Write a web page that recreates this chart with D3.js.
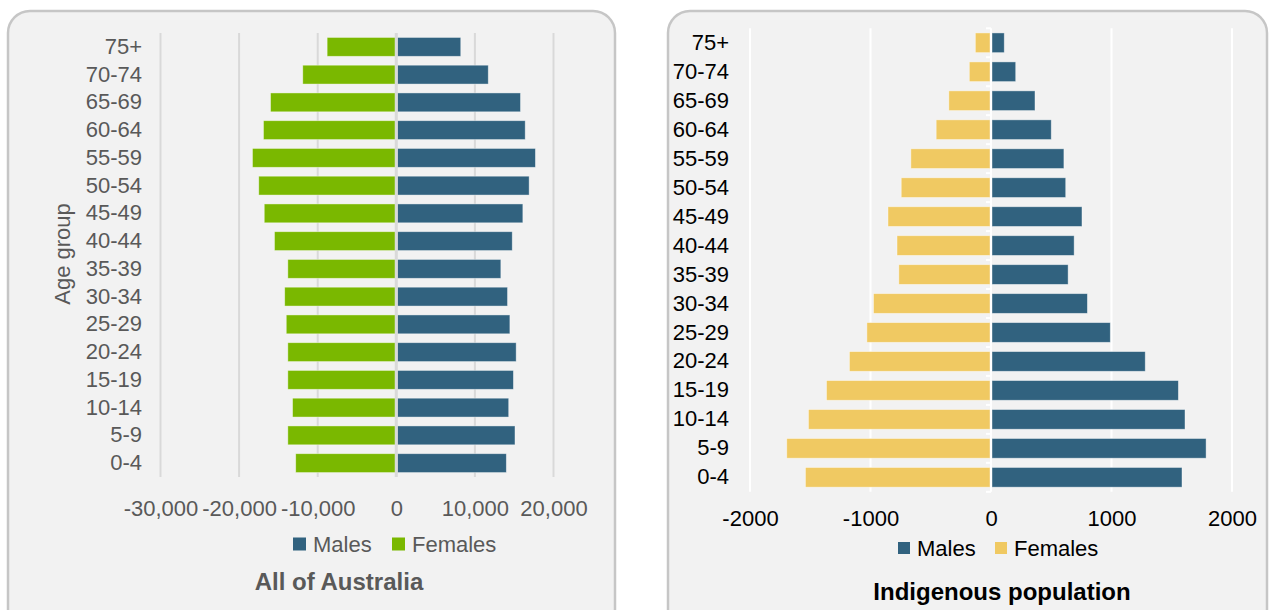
<!DOCTYPE html>
<html>
<head>
<meta charset="utf-8">
<script src="https://cdn.jsdelivr.net/npm/d3@7"></script>
<style>
  body { margin: 0; background: #fff; }
  svg { display: block; font-family: "Liberation Sans", Arial, sans-serif; }
</style>
</head>
<body>
<svg width="1271" height="610"></svg>
<script>
// age groups, bottom to top as in the source table
var ageGroups = ['0-4', '5-9', '10-14', '15-19', '20-24', '25-29', '30-34', '35-39',
  '40-44', '45-49', '50-54', '55-59', '60-64', '65-69', '70-74', '75+'];

// All of Australia
var ausMales = [14000, 15100, 14300, 14900, 15250, 14450, 14150, 13300,
  14750, 16100, 16900, 17700, 16400, 15800, 11700, 8200];
var ausFemales = [-12800, -13800, -13200, -13800, -13800, -14000, -14200, -13800,
  -15500, -16800, -17500, -18300, -16900, -16000, -11900, -8800];
var ausTicks = [-30000, -20000, -10000, 0, 10000, 20000];

// Indigenous population
var indMales = [1585, 1785, 1610, 1555, 1280, 990, 800, 640,
  690, 755, 620, 605, 500, 365, 205, 110];
var indFemales = [-1540, -1695, -1515, -1365, -1175, -1030, -975, -765,
  -780, -855, -745, -665, -455, -350, -180, -130];
var indTicks = [-2000, -1000, 0, 1000, 2000];

var svg = d3.select('svg');

// excel style labels use a plain hyphen for the minus sign
var hyphen = function (f) {
  return function (d) { return f(d).replace('\u2212', '-'); };
};

// panel cards
[[8, 11, 607], [668, 11, 599]].forEach(function (c) {
  svg.append('rect')
    .attr('x', c[0]).attr('y', c[1])
    .attr('width', c[2]).attr('height', 620)
    .attr('rx', 22)
    .attr('fill', '#f2f2f2')
    .attr('stroke', '#c6c6c6')
    .attr('stroke-width', 2.5);
});

function pyramid(opt) {
  var g = svg.append('g');
  var x = d3.scaleLinear().domain(opt.domain).range(opt.xRange);
  var y = d3.scaleBand().domain(ageGroups.slice().reverse())
    .range(opt.yRange).paddingInner(0.32).paddingOuter(0.16);

  // gridlines
  g.selectAll('.grid')
    .data(opt.ticks.filter(function (d) { return d !== 0; }))
    .enter().append('line')
    .attr('x1', function (d) { return x(d); })
    .attr('x2', function (d) { return x(d); })
    .attr('y1', opt.yRange[0]).attr('y2', opt.yRange[1])
    .attr('stroke', opt.gridColor)
    .attr('stroke-width', 2);

  var rows = ageGroups.map(function (a, i) {
    return { age: a, m: opt.males[i], f: opt.females[i] };
  });

  g.selectAll('.female')
    .data(rows)
    .enter().append('rect')
    .attr('x', function (d) { return x(d.f); })
    .attr('width', function (d) { return x(0) - x(d.f) - 1; })
    .attr('y', function (d) { return y(d.age); })
    .attr('height', y.bandwidth())
    .attr('fill', opt.femaleColor)
    .attr('stroke', 'rgba(255,255,255,0.5)')
    .attr('stroke-width', 0.8);

  g.selectAll('.male')
    .data(rows)
    .enter().append('rect')
    .attr('x', x(0) + 1)
    .attr('width', function (d) { return x(d.m) - x(0) - 1; })
    .attr('y', function (d) { return y(d.age); })
    .attr('height', y.bandwidth())
    .attr('fill', '#31627f')
    .attr('stroke', 'rgba(255,255,255,0.5)')
    .attr('stroke-width', 0.8);

  // zero axis line
  g.append('line')
    .attr('x1', x(0)).attr('x2', x(0))
    .attr('y1', opt.yRange[0]).attr('y2', opt.yRange[1])
    .attr('stroke', opt.zeroColor)
    .attr('stroke-width', opt.zeroWidth);

  if (opt.zeroTicks) {
    var step = y.step();
    g.selectAll('.ztick')
      .data(d3.range(ageGroups.length + 1))
      .enter().append('line')
      .attr('x1', x(0) - 5).attr('x2', x(0))
      .attr('y1', function (i) { return opt.yRange[0] + i * step; })
      .attr('y2', function (i) { return opt.yRange[0] + i * step; })
      .attr('stroke', opt.zeroColor)
      .attr('stroke-width', 2);
  }

  // x axis labels
  var xAxis = g.append('g')
    .attr('transform', 'translate(0,' + opt.tickY + ')')
    .call(d3.axisBottom(x).tickValues(opt.ticks).tickSize(0).tickPadding(0)
      .tickFormat(hyphen(opt.fmt)));
  xAxis.select('.domain').remove();
  xAxis.selectAll('text')
    .attr('dy', '0.35em')
    .attr('fill', opt.textColor)
    .style('font-size', '22px')
    .style('font-family', '"Liberation Sans", Arial, sans-serif');

  // category labels
  var yAxis = g.append('g')
    .attr('transform', 'translate(' + opt.labelX + ',0)')
    .call(d3.axisLeft(y).tickSize(0).tickPadding(0));
  yAxis.select('.domain').remove();
  yAxis.selectAll('text')
    .attr('fill', opt.textColor)
    .style('font-size', '22px')
    .style('font-family', '"Liberation Sans", Arial, sans-serif');

  // legend
  var lg = g.append('g').attr('transform', 'translate(0,' + opt.legendY + ')');
  [['Males', '#31627f', opt.legend[0]], ['Females', opt.femaleColor, opt.legend[1]]]
    .forEach(function (l) {
      lg.append('rect')
        .attr('x', l[2]).attr('y', -opt.sq / 2)
        .attr('width', opt.sq).attr('height', opt.sq)
        .attr('fill', l[1]);
      lg.append('text')
        .attr('x', l[2] + opt.sq + 7).attr('dy', '0.35em')
        .attr('fill', opt.textColor)
        .style('font-size', '22px')
        .text(l[0]);
    });

  // title
  g.append('text')
    .attr('x', opt.titleX).attr('y', opt.titleY).attr('dy', '0.35em')
    .attr('text-anchor', 'middle')
    .attr('fill', opt.textColor)
    .style('font-size', '24px')
    .style('font-weight', 'bold')
    .text(opt.title);
}

pyramid({
  domain: [-30000, 20000], xRange: [160.5, 553.5], yRange: [33, 477],
  males: ausMales, females: ausFemales, ticks: ausTicks,
  fmt: d3.format(','), femaleColor: '#7ab800',
  gridColor: '#d9d9d9', zeroColor: '#d9d9d9', zeroWidth: 3, zeroTicks: false,
  textColor: '#595959', tickY: 508, labelX: 142,
  legendY: 544, legend: [293, 392], sq: 13,
  title: 'All of Australia', titleX: 339, titleY: 582
});

pyramid({
  domain: [-2000, 2000], xRange: [750, 1232], yRange: [28.3, 491.8],
  males: indMales, females: indFemales, ticks: indTicks,
  fmt: d3.format('d'), femaleColor: '#f0c962',
  gridColor: '#ffffff', zeroColor: '#ffffff', zeroWidth: 2, zeroTicks: true,
  textColor: '#000000', tickY: 518, labelX: 729,
  legendY: 548, legend: [898, 995], sq: 12,
  title: 'Indigenous population', titleX: 1002, titleY: 592
});

// rotated axis title
svg.append('text')
  .attr('transform', 'translate(62,254) rotate(-90)')
  .attr('dy', '0.35em')
  .attr('text-anchor', 'middle')
  .attr('fill', '#595959')
  .style('font-size', '22px')
  .text('Age group');
</script>
</body>
</html>
